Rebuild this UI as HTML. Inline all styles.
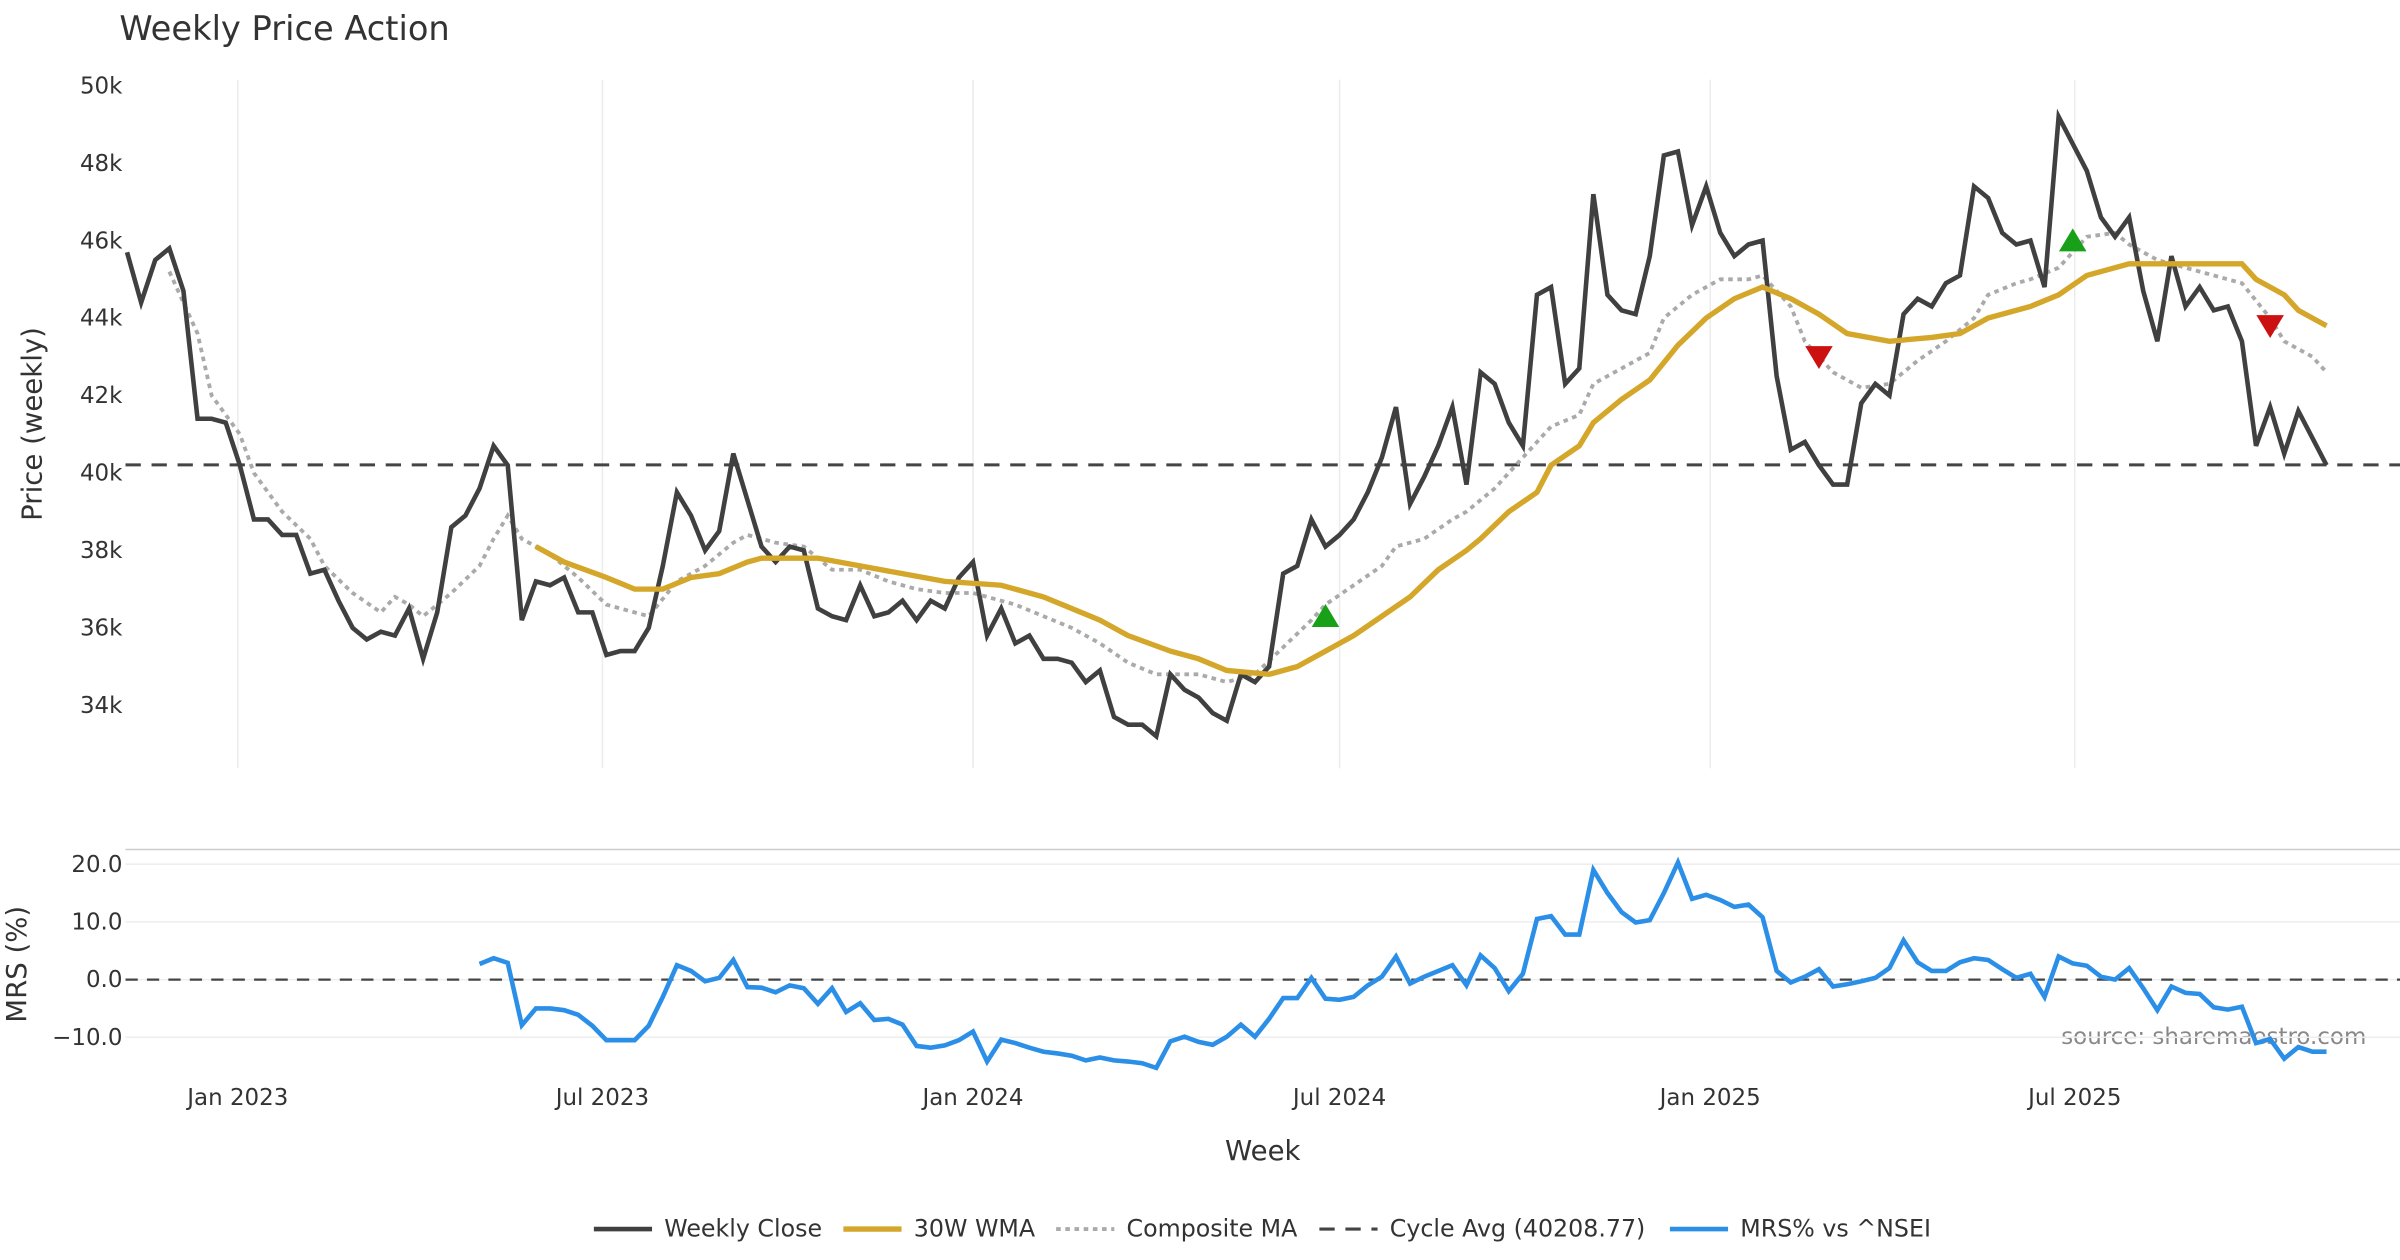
<!DOCTYPE html>
<html><head><meta charset="utf-8"><style>
html,body{margin:0;padding:0;background:#fff;}
svg{display:block;font-family:"DejaVu Sans","Liberation Sans",sans-serif;}
</style></head><body>
<svg id="chart" width="2400" height="1260" viewBox="0 0 1568 823.2" xmlns="http://www.w3.org/2000/svg">
<rect width="1568" height="823.2" fill="#fff"/>
<text x="78" y="26" font-size="22" fill="#333">Weekly Price Action</text>
<text transform="translate(27,277) rotate(-90)" text-anchor="middle" font-size="18" fill="#333">Price (weekly)</text>
<text transform="translate(17,630) rotate(-90)" text-anchor="middle" font-size="18" fill="#333">MRS (%)</text>
<text x="825" y="758" text-anchor="middle" font-size="18" fill="#333">Week</text>
<text x="1546" y="682" text-anchor="end" font-size="15" fill="#888">source: sharemaestro.com</text>
<line x1="82" y1="555" x2="1568" y2="555" stroke="#ccc" stroke-width="1"/>
<g id="grid"></g>
<g id="marks"></g>
<g id="legend"></g>
</svg>
<script>
const startDate = new Date(2022,10,7);
const closes = [45.7,44.4,45.5,45.8,44.7,41.4,41.4,41.3,40.2,38.8,
38.8,38.4,38.4,37.4,37.5,36.7,36.0,35.7,35.9,35.8,
36.5,35.2,36.4,38.6,38.9,39.6,40.7,40.2,36.2,37.2,
37.1,37.3,36.4,36.4,35.3,35.4,35.4,36.0,37.6,39.5,
38.9,38.0,38.5,40.5,39.3,38.1,37.7,38.1,38.0,36.5,
36.3,36.2,37.1,36.3,36.4,36.7,36.2,36.7,36.5,37.3,
37.7,35.8,36.5,35.6,35.8,35.2,35.2,35.1,34.6,34.9,
33.7,33.5,33.5,33.2,34.8,34.4,34.2,33.8,33.6,34.8,
34.6,35.0,37.4,37.6,38.8,38.1,38.4,38.8,39.5,40.4,
41.7,39.2,39.9,40.7,41.7,39.7,42.6,42.3,41.3,40.7,
44.6,44.8,42.3,42.7,47.2,44.6,44.2,44.1,45.6,48.2,
48.3,46.4,47.4,46.2,45.6,45.9,46.0,42.5,40.6,40.8,
40.2,39.7,39.7,41.8,42.3,42.0,44.1,44.5,44.3,44.9,
45.1,47.4,47.1,46.2,45.9,46.0,44.8,49.2,48.5,47.8,
46.6,46.1,46.6,44.7,43.4,45.6,44.3,44.8,44.2,44.3,
43.4,40.7,41.7,40.5,41.6,40.9,40.2];
const wmaWeeks = [29,31,34,36,38,40,42,44,45,49,52,55,58,62,65,67,69,71,74,76,78,81,83,85,87,89,91,93,95,96,98,100,101,103,104,106,108,110,112,114,116,118,120,122,125,128,130,132,135,137,139,142,144,147,150,151,153,154,156];
const wmaValues = [38.1,37.7,37.3,37.0,37.0,37.3,37.4,37.7,37.8,37.8,37.6,37.4,37.2,37.1,36.8,36.5,36.2,35.8,35.4,35.2,34.9,34.8,35.0,35.4,35.8,36.3,36.8,37.5,38.0,38.3,39.0,39.5,40.2,40.7,41.3,41.9,42.4,43.3,44.0,44.5,44.8,44.5,44.1,43.6,43.4,43.5,43.6,44.0,44.3,44.6,45.1,45.4,45.4,45.4,45.4,45.0,44.6,44.2,43.8];
const compWeeks = [3,5,6,8,9,11,13,14,16,18,19,20,21,23,25,26,27,28,30,32,34,37,39,41,43,44,46,48,50,52,54,56,58,60,63,65,67,69,71,73,76,78,80,82,84,85,87,89,90,92,94,95,97,98,101,103,104,106,108,109,111,113,115,116,118,119,121,123,125,127,129,131,132,134,135,137,139,141,142,144,146,148,150,152,153,155,156];
const compValues = [45.2,43.6,42.0,41.0,40.0,39.0,38.3,37.6,36.9,36.4,36.8,36.6,36.3,36.9,37.6,38.3,38.9,38.3,37.9,37.3,36.6,36.3,37.2,37.6,38.2,38.4,38.2,38.1,37.5,37.5,37.2,37.0,36.9,36.9,36.6,36.3,36.0,35.6,35.1,34.8,34.8,34.6,34.8,35.5,36.2,36.6,37.1,37.6,38.1,38.3,38.8,39.0,39.6,40.0,41.2,41.5,42.3,42.7,43.1,44.0,44.6,45.0,45.0,45.1,44.3,43.4,42.6,42.2,42.3,42.9,43.4,44.0,44.6,44.9,45.0,45.3,46.1,46.2,45.9,45.5,45.3,45.1,44.9,44.0,43.4,43.0,42.6];
const mrs = [2.7,3.7,2.9,-7.9,-5.0,-5.0,-5.3,-6.1,-8.0,-10.5,-10.5,-10.5,-8.0,-3.0,2.5,1.5,-0.3,0.3,3.4,-1.3,-1.4,-2.2,-1.0,-1.5,-4.2,-1.5,-5.6,-4.1,-7.0,-6.8,-7.8,-11.5,-11.8,-11.4,-10.5,-9.0,-14.2,-10.4,-11.0,-11.8,-12.5,-12.8,-13.2,-14.0,-13.5,-14.0,-14.2,-14.5,-15.3,-10.7,-9.9,-10.8,-11.3,-9.9,-7.8,-9.9,-6.8,-3.2,-3.2,0.3,-3.3,-3.5,-3.0,-1.0,0.5,4.0,-0.7,0.5,1.5,2.5,-1.0,4.2,2.0,-2.0,1.0,10.5,11.0,7.8,7.8,19.0,15.0,11.7,9.9,10.3,15.0,20.3,14.0,14.7,13.8,12.6,13.0,10.8,1.5,-0.5,0.5,1.8,-1.2,-0.8,-0.3,0.3,2.0,6.8,3.0,1.5,1.5,3.0,3.7,3.4,1.8,0.3,1.0,-3.0,4.0,2.8,2.4,0.5,0.0,2.0,-1.5,-5.3,-1.2,-2.3,-2.5,-4.8,-5.2,-4.7,-11.0,-10.3,-13.7,-11.7,-12.5,-12.5];
const buyWeeks = [85,138];
const buyValues = [36.3,46.0];
const sellWeeks = [120,152];
const sellValues = [43.0,43.8];
const cycleAvg = 40208.77;
const priceTicks = [50,48,46,44,42,40,38,36,34];
const mrsTicks = [20,10,0,-10];
const xTickDates = ["2023-01-01","2023-07-01","2024-01-01","2024-07-01","2025-01-01","2025-07-01"];
const xTickLabels = ["Jan 2023","Jul 2023","Jan 2024","Jul 2024","Jan 2025","Jul 2025"];

const NS="http://www.w3.org/2000/svg";
const X0=83, STEP=(1520-83)/156;
const xw = w => X0 + w*STEP;
const yp = p => 56 + (50-p)/2*50.6;
const ym = v => 640 - v*3.77;
function dateToWeek(s){const d=new Date(s+"T00:00:00");return (d-startDate)/(7*86400000);}
function mk(tag,attrs,parent){const e=document.createElementNS(NS,tag);for(const k in attrs)e.setAttribute(k,attrs[k]);parent.appendChild(e);return e;}
const grid=document.getElementById('grid'), marks=document.getElementById('marks'), leg=document.getElementById('legend');

xTickDates.forEach((d,i)=>{
  const x=xw(dateToWeek(d));
  const g=mk('line',{x1:x,y1:52,x2:x,y2:502,stroke:'#ececec','stroke-width':1},grid);
  
  
  const t=mk('text',{x:x,y:722,'text-anchor':'middle','font-size':15,fill:'#333'},grid);
  
  
  t.textContent=xTickLabels[i];
});
priceTicks.forEach(p=>{
  const t=mk('text',{x:80,y:yp(p)+5,'text-anchor':'end','font-size':15,fill:'#333'},grid);
  
  
  t.textContent=p+'k';
});
mrsTicks.forEach(v=>{
  const l=mk('line',{x1:82,y1:ym(v),x2:1568,y2:ym(v),stroke:'#eeeeee','stroke-width':1},grid);
  
  
  const t=mk('text',{x:80,y:ym(v)+5,'text-anchor':'end','font-size':15,fill:'#333'},grid);
  
  
  t.textContent=(v<0?'\u2212'+Math.abs(v).toFixed(1):v.toFixed(1));
});
function pts(ws,vs,f){return ws.map((w,i)=>xw(w).toFixed(2)+','+f(vs[i]).toFixed(2)).join(' ');}
const ca=mk('line',{x1:82,y1:yp(cycleAvg/1000),x2:1568,y2:yp(cycleAvg/1000),stroke:'#444','stroke-width':2,'stroke-dasharray':'10,7'},marks);


const z=mk('line',{x1:82,y1:ym(0),x2:1568,y2:ym(0),stroke:'#444','stroke-width':1.5,'stroke-dasharray':'8,6'},marks);


const comp=mk('polyline',{points:pts(compWeeks,compValues,yp),fill:'none',stroke:'#aaa','stroke-width':2.5,'stroke-dasharray':'3,3'},marks);


const cl=mk('polyline',{points:pts(closes.map((_,i)=>i),closes,yp),fill:'none',stroke:'#404040','stroke-width':3,'stroke-linejoin':'miter'},marks);


const wl=mk('polyline',{points:pts(wmaWeeks,wmaValues,yp),fill:'none',stroke:'#d4a62a','stroke-width':3.5},marks);


const mstart=closes.length-mrs.length;
const ml=mk('polyline',{points:pts(mrs.map((_,i)=>i+mstart),mrs,ym),fill:'none',stroke:'#2b8fe8','stroke-width':3},marks);


buyWeeks.forEach((w,i)=>{const x=xw(w),y=yp(buyValues[i]);
  const t=mk('polygon',{points:`${x-9},${y+7} ${x+9},${y+7} ${x},${y-8}`,fill:'#18a018'},marks);
  
  });
sellWeeks.forEach((w,i)=>{const x=xw(w),y=yp(sellValues[i]);
  const t=mk('polygon',{points:`${x-9},${y-7} ${x+9},${y-7} ${x},${y+8}`,fill:'#cc1111'},marks);
  
  });
const legendItems=[["Weekly Close",388,'#404040',3,null],["30W WMA",551,'#d4a62a',3.5,null],["Composite MA",690,'#aaa',2.5,'3,3'],["Cycle Avg (40208.77)",862,'#444',2,'10,7'],["MRS% vs ^NSEI",1091,'#2b8fe8',3,null]];
legendItems.forEach(it=>{
  const a={x1:it[1],y1:803,x2:it[1]+38,y2:803,stroke:it[2],'stroke-width':it[3]};
  if(it[4])a['stroke-dasharray']=it[4];
  const l=mk('line',a,leg);
  
  
  const t=mk('text',{x:it[1]+46,y:808,'font-size':15.5,fill:'#333'},leg);
  
  
  t.textContent=it[0];
});
</script>
</body></html>
